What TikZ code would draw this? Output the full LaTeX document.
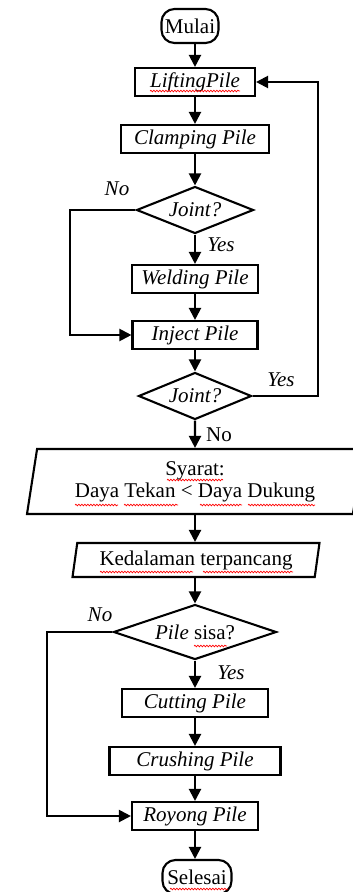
\documentclass[tikz,border=0pt]{standalone}
\usepackage{fontspec}
\setmainfont{Liberation Serif}
\usetikzlibrary{arrows.meta,shapes.geometric,decorations.pathmorphing}
\begin{document}
\begin{tikzpicture}[x=1pt,y=-1pt,
  every node/.style={font=\fontsize{21}{23}\selectfont, inner sep=0pt},
  proc/.style={draw, line width=2.1pt, rectangle, minimum height=28pt},
  term/.style={draw, line width=2.1pt, rectangle, rounded corners=13pt, minimum height=34pt},
  dec/.style={draw, line width=2.1pt, diamond, aspect=2.5},
  io/.style={draw, line width=2.1pt, trapezium, trapezium left angle=76, trapezium right angle=104, trapezium stretches body},
  arr/.style={line width=2.1pt, -{Triangle[length=12pt,width=12pt]}},
  lbl/.style={font=\fontsize{21}{23}\selectfont\itshape},
  squig/.style={red, line width=0.7pt, decorate, decoration={snake, amplitude=0.8pt, segment length=3pt}}
]
\useasboundingbox (0,0) rectangle (353,892);
\clip (0,0) rectangle (353,892);

% nodes
\node[term, minimum width=57pt] (start) at (190,26) {Mulai};
\node[proc, minimum width=120pt] (lift) at (195,82) {\itshape LiftingPile};
\node[proc, minimum width=148pt] (clamp) at (195,139) {\itshape Clamping Pile};
\node[dec, minimum width=117pt, minimum height=47pt] (j1) at (195,210) {\itshape Joint?};
\node[proc, minimum width=126pt] (weld) at (195,279) {\itshape Welding Pile};
\node[proc, minimum width=125pt] (inject) at (195,335) {\itshape Inject Pile};
\node[dec, minimum width=113pt, minimum height=47pt] (j2) at (195,396) {\itshape Joint?};
\node[io, minimum width=336pt, minimum height=65pt, align=center] (syarat) at (195,481.5) {Syarat:\\[-1pt]Daya Tekan < Daya Dukung};
\node[io, minimum width=247pt, minimum height=34pt] (depth) at (196,560) {Kedalaman terpancang};
\node[dec, minimum width=163pt, minimum height=55pt, aspect=3] (sisa) at (195,632) {\textit{Pile} sisa?};
\node[proc, minimum width=146pt] (cut) at (195,703) {\itshape Cutting Pile};
\node[proc, minimum width=171pt] (crush) at (195,761) {\itshape Crushing Pile};
\node[proc, minimum width=126pt] (royong) at (195,816) {\itshape Royong Pile};
\node[term, minimum width=69pt] (end) at (197,877) {Selesai};

% labels
\node[lbl] (no1) at (117,189) {No};
\node[lbl] (yes1) at (221,245) {Yes};
\node[lbl] (yes2) at (281,380) {Yes};
\node (no2) at (219,435) {No};
\node[lbl] (no3) at (100,615) {No};
\node[lbl] (yes3) at (231,673) {Yes};

% main flow
\draw[arr] (lift.north |- start.south) -- (lift.north);
\draw[arr] (lift) -- (clamp);
\draw[arr] (clamp) -- (j1);
\draw[arr] (j1) -- (weld);
\draw[arr] (weld) -- (inject);
\draw[arr] (inject) -- (j2);
\draw[arr] (j2) -- (syarat);
\draw[arr] (syarat.south) -- (syarat.south |- depth.north);
\draw[arr] (sisa.north |- depth.south) -- (sisa.north);
\draw[arr] (sisa) -- (cut);
\draw[arr] (cut) -- (crush);
\draw[arr] (crush) -- (royong);
\draw[arr] (royong.south) -- (royong.south |- end.north);

% loops
\coordinate (L1) at (70,0);
\coordinate (R1) at (318,0);
\coordinate (L2) at (47,0);
\draw[arr] (j1.west) -- (j1.west -| L1) |- (inject.west);
\draw[arr] (j2.east) -- (j2.east -| R1) |- (lift.east);
\draw[arr] (sisa.west) -- (sisa.west -| L2) |- (royong.west);

% spell-check squiggles
\draw[squig] (150,91) -- (240,91);
\draw[squig] (167,480) -- (223,480);
\draw[squig] (75,505) -- (118,505);
\draw[squig] (124,505) -- (178,505);
\draw[squig] (200,505) -- (242,505);
\draw[squig] (248,505) -- (315,505);
\draw[squig] (100,572) -- (193,572);
\draw[squig] (203,572) -- (293,572);
\draw[squig] (194,646) -- (227,646);
\draw[squig] (170,889) -- (228,889);
\end{tikzpicture}
\end{document}
